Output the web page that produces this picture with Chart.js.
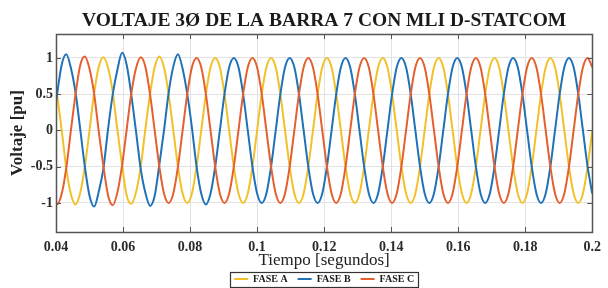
<!DOCTYPE html>
<html>
<head>
<meta charset="utf-8">
<script src="https://cdn.jsdelivr.net/npm/chart.js@4.4.1/dist/chart.umd.min.js"></script>
<style>
  html, body { margin: 0; padding: 0; background: #fff; }
  #wrap { width: 608px; height: 288px; }
</style>
</head>
<body>
<div id="wrap"><canvas id="chart" width="608" height="288"></canvas></div>
<script>
// Sampling grid of the scope trace (30 deg steps of a 60 Hz wave)
const sampleStart = 28 / 720;
const sampleStep = 1 / 720;

const xTicks = [0.04, 0.06, 0.08, 0.1, 0.12, 0.14, 0.16, 0.18, 0.2];
const yTicks = [-1, -0.5, 0, 0.5, 1];
const seriesNames = ['FASE A', 'FASE B', 'FASE C'];

// per unit voltage
const faseA = [
  0.87, 0.5, 0.02, -0.52, -0.88, -1.02, -0.86, -0.5, 0, 0.52, 0.88, 1.01,
  0.86, 0.52, 0, -0.48, -0.9, -1.01, -0.85, -0.5, 0.02, 0.5, 0.87, 1.02,
  0.87, 0.5, 0, -0.5, -0.87, -1, -0.87, -0.5, 0, 0.5, 0.87, 1,
  0.87, 0.5, 0, -0.5, -0.87, -1, -0.87, -0.5, 0, 0.5, 0.87, 1,
  0.87, 0.5, 0, -0.5, -0.87, -1, -0.87, -0.5, 0, 0.5, 0.87, 1,
  0.87, 0.5, 0, -0.5, -0.87, -1, -0.87, -0.5, 0, 0.5, 0.87, 1,
  0.87, 0.5, 0, -0.5, -0.87, -1, -0.87, -0.5, 0, 0.5, 0.87, 1,
  0.87, 0.5, 0, -0.5, -0.87, -1, -0.87, -0.5, 0, 0.5, 0.87, 1,
  0.87, 0.5, 0, -0.5, -0.87, -1, -0.87, -0.5, 0, 0.5, 0.87, 1,
  0.87, 0.5, 0, -0.5, -0.87, -1, -0.87, -0.5, 0
];
const faseB = [
  0, 0.48, 0.9, 1.05, 0.86, 0.52, 0.02, -0.5, -0.9, -1.05, -0.84, -0.52,
  0.03, 0.5, 0.84, 1.07, 0.9, 0.48, -0.02, -0.53, -0.86, -1.04, -0.9, -0.47,
  0, 0.52, 0.88, 1.05, 0.85, 0.5, 0.04, -0.5, -0.87, -1.02, -0.87, -0.5,
  0, 0.5, 0.87, 1, 0.87, 0.5, 0, -0.5, -0.87, -1, -0.87, -0.5,
  0, 0.5, 0.87, 1, 0.87, 0.5, 0, -0.5, -0.87, -1, -0.87, -0.5,
  0, 0.5, 0.87, 1, 0.87, 0.5, 0, -0.5, -0.87, -1, -0.87, -0.5,
  0, 0.5, 0.87, 1, 0.87, 0.5, 0, -0.5, -0.87, -1, -0.87, -0.5,
  0, 0.5, 0.87, 1, 0.87, 0.5, 0, -0.5, -0.87, -1, -0.87, -0.5,
  0, 0.5, 0.87, 1, 0.87, 0.5, 0, -0.5, -0.87, -1, -0.87, -0.5,
  0, 0.5, 0.87, 1, 0.87, 0.5, 0, -0.5, -0.87
];
const faseC = [
  -0.86, -1.02, -0.88, -0.52, 0, 0.5, 0.9, 1.02, 0.85, 0.5, -0.02, -0.5,
  -0.9, -1.03, -0.85, -0.48, 0.02, 0.52, 0.86, 1.01, 0.88, 0.5, 0, -0.5,
  -0.87, -1, -0.87, -0.5, 0, 0.5, 0.87, 1, 0.87, 0.5, 0, -0.5,
  -0.87, -1, -0.87, -0.5, 0, 0.5, 0.87, 1, 0.87, 0.5, 0, -0.5,
  -0.87, -1, -0.87, -0.5, 0, 0.5, 0.87, 1, 0.87, 0.5, 0, -0.5,
  -0.87, -1, -0.87, -0.5, 0, 0.5, 0.87, 1, 0.87, 0.5, 0, -0.5,
  -0.87, -1, -0.87, -0.5, 0, 0.5, 0.87, 1, 0.87, 0.5, 0, -0.5,
  -0.87, -1, -0.87, -0.5, 0, 0.5, 0.87, 1, 0.87, 0.5, 0, -0.5,
  -0.87, -1, -0.87, -0.5, 0, 0.5, 0.87, 1, 0.87, 0.5, 0, -0.5,
  -0.87, -1, -0.87, -0.5, 0, 0.5, 0.87, 1, 0.87
];

const times = faseA.map((_, i) => sampleStart + i * sampleStep);

const colors = ['#F2C12A', '#1f72b8', '#E5602F'];
const serif = "'Liberation Serif', 'Times New Roman', serif";

Chart.defaults.font.family = serif;
Chart.defaults.color = '#2b2b2b';

// MATLAB style box with inward ticks
const frameTicks = {
  id: 'frameTicks',
  afterDatasetsDraw(chart) {
    const { ctx, chartArea: a, scales: { x, y } } = chart;
    ctx.save();
    ctx.strokeStyle = '#555';
    ctx.lineWidth = 1;
    ctx.beginPath();
    x.ticks.forEach(t => {
      const px = Math.round(x.getPixelForValue(t.value)) + 0.5;
      ctx.moveTo(px, a.bottom); ctx.lineTo(px, a.bottom - 5);
      ctx.moveTo(px, a.top); ctx.lineTo(px, a.top + 5);
    });
    y.ticks.forEach(t => {
      const py = Math.round(y.getPixelForValue(t.value)) + 0.5;
      ctx.moveTo(a.left, py); ctx.lineTo(a.left + 5, py);
      ctx.moveTo(a.right, py); ctx.lineTo(a.right - 5, py);
    });
    ctx.stroke();
    ctx.lineWidth = 1.5;
    ctx.strokeRect(Math.round(a.left) + 0.5, Math.round(a.top) + 0.5,
      Math.round(a.right - a.left), Math.round(a.bottom - a.top));
    ctx.restore();
  }
};

// frame around the legend entries
const legendFrame = {
  id: 'legendFrame',
  afterDraw(chart) {
    const boxes = chart.legend && chart.legend.legendHitBoxes;
    if (!boxes || !boxes.length) return;
    const ctx = chart.ctx;
    const left = Math.min(...boxes.map(b => b.left)) - 4;
    const right = Math.max(...boxes.map(b => b.left + b.width)) + 4;
    const top = boxes[0].top - 2;
    const bottom = boxes[0].top + boxes[0].height + 3;
    ctx.save();
    ctx.strokeStyle = '#333';
    ctx.lineWidth = 1.2;
    ctx.strokeRect(Math.round(left) + 0.5, Math.round(top) + 0.5,
      Math.round(right - left), Math.round(bottom - top));
    ctx.restore();
  }
};

new Chart(document.getElementById('chart'), {
  type: 'line',
  data: {
    labels: times,
    datasets: [
      { label: seriesNames[0], data: faseA, borderColor: colors[0], backgroundColor: colors[0], order: 3 },
      { label: seriesNames[1], data: faseB, borderColor: colors[1], backgroundColor: colors[1], order: 2 },
      { label: seriesNames[2], data: faseC, borderColor: colors[2], backgroundColor: colors[2], order: 1 },
    ].map(d => Object.assign(d, {
      borderWidth: 2,
      pointRadius: 0,
      fill: false,
      cubicInterpolationMode: 'monotone',
    }))
  },
  options: {
    responsive: false,
    animation: false,
    devicePixelRatio: 1,
    layout: { padding: { left: 0, right: 12, top: 0, bottom: -6 } },
    scales: {
      x: {
        type: 'linear',
        min: 0.04,
        max: 0.2,
        afterBuildTicks: (s) => { s.ticks = xTicks.map(v => ({ value: v })); },
        afterFit: (s) => { s.height = 32; },
        grid: { color: '#e2e2e2', drawTicks: false },
        border: { display: false },
        ticks: {
          padding: 7,
          maxRotation: 0,
          autoSkip: false,
          font: { size: 14, weight: 'bold' },
          callback: (v) => String(v),
        },
        title: {
          display: true,
          text: 'Tiempo [segundos]',
          font: { size: 17 },
          padding: { top: 0, bottom: -7 },
          color: '#222',
        }
      },
      y: {
        min: -1.4,
        max: 1.33,
        afterBuildTicks: (s) => { s.ticks = yTicks.map(v => ({ value: v })); },
        afterFit: (s) => { s.width = 56; },
        grid: { color: '#e2e2e2', drawTicks: false },
        border: { display: false },
        ticks: {
          padding: 3,
          autoSkip: false,
          font: { size: 14, weight: 'bold' },
          callback: (v) => String(v),
        },
        title: {
          display: true,
          text: 'Voltaje [pu]',
          font: { size: 17, weight: 'bold' },
          padding: { top: 7, bottom: 0 },
          color: '#222',
        }
      }
    },
    plugins: {
      title: {
        display: true,
        fullSize: false,
        text: 'VOLTAJE 3Ø DE LA BARRA 7 CON MLI D-STATCOM',
        font: { size: 19.5, weight: 'bold' },
        color: '#1a1a1a',
        padding: { top: 9, bottom: 1.6 },
      },
      legend: {
        position: 'bottom',
        fullSize: false,
        labels: {
          usePointStyle: true,
          pointStyle: 'line',
          pointStyleWidth: 14,
          padding: 10,
          color: '#1a1a1a',
          font: { size: 10, weight: 'bold' },
          sort: (a, b) => a.datasetIndex - b.datasetIndex,
        }
      },
      tooltip: { enabled: false },
    }
  },
  plugins: [frameTicks, legendFrame],
});
</script>
</body>
</html>
